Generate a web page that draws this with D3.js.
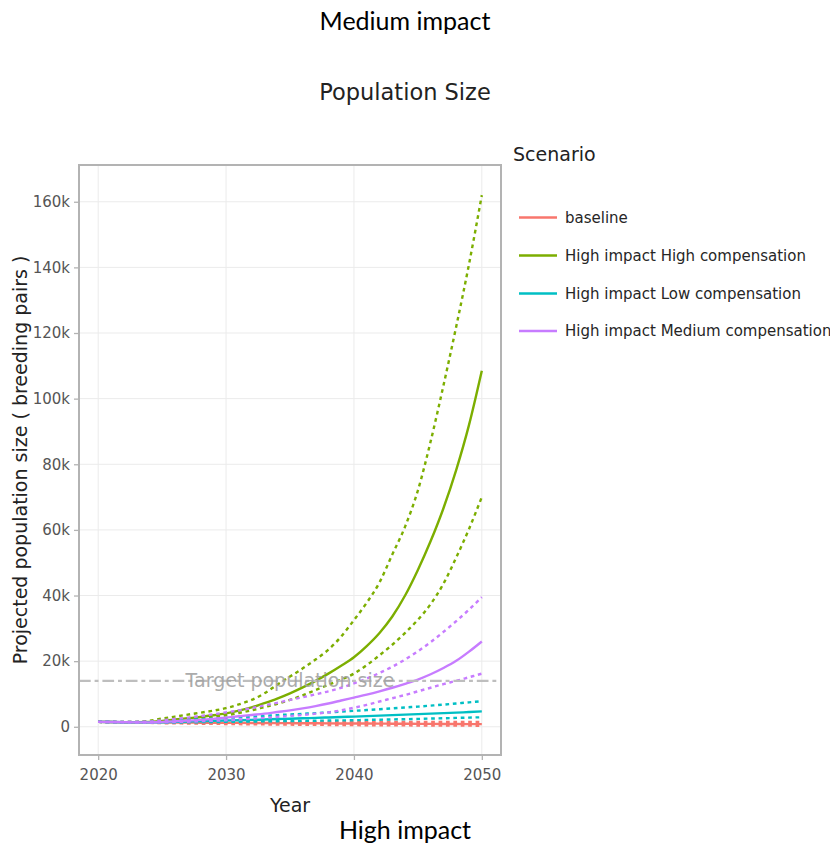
<!DOCTYPE html>
<html><head><meta charset="utf-8">
<script src="https://cdn.jsdelivr.net/npm/d3@7/dist/d3.min.js"></script>
<style>body{margin:0;background:#fff}svg{display:block}</style>
</head><body><svg id="c" width="830" height="847"></svg>
<script>
const years = [2020,2021,2022,2023,2024,2025,2026,2027,2028,2029,2030,2031,2032,2033,2034,2035,2036,2037,2038,2039,2040,2041,2042,2043,2044,2045,2046,2047,2048,2049,2050];
const scenarios = ["baseline","High impact High compensation","High impact Low compensation","High impact Medium compensation"];
const scenarioColors = ["#F8766D","#7CAE00","#00BFC4","#C77CFF"];

const baselineMean  = [1500,1450,1400,1380,1350,1330,1300,1280,1250,1230,1200,1180,1160,1140,1120,1100,1080,1060,1040,1020,1000,980,960,940,920,900,880,860,840,820,800];
const baselineUpper = [1500,1500,1500,1500,1500,1500,1500,1500,1500,1500,1500,1500,1500,1500,1500,1500,1500,1500,1500,1490,1490,1480,1480,1470,1470,1460,1460,1450,1450,1450,1450];
const baselineLower = [1500,1400,1300,1250,1200,1100,1050,1000,950,900,850,800,760,720,680,650,620,590,560,530,500,480,460,440,420,400,380,360,350,340,330];

const highHighMean  = [1500,1450,1400,1400,1450,1800,2200,2600,3000,3500,4100,4900,5900,7200,8600,10200,12000,14000,16200,18600,21200,24600,28600,33600,40000,47800,56600,66600,78300,92000,108500];
const highHighUpper = [1500,1450,1450,1500,1800,2500,3100,3700,4300,4900,5700,6800,8200,10200,12800,15300,17800,20500,23500,27500,32500,37800,44000,52500,61000,72000,87000,104000,122000,141000,162000];
const highHighLower = [1500,1450,1400,1350,1400,1600,1900,2200,2600,3000,3500,4200,5000,6000,7000,8200,9600,11200,12800,14400,16200,18800,21800,25000,28600,32600,37400,43600,51600,60300,70000];

const highLowMean   = [1500,1450,1400,1350,1350,1400,1500,1600,1700,1800,1900,2000,2100,2200,2350,2450,2600,2700,2850,3000,3100,3250,3400,3550,3700,3850,4000,4150,4300,4500,4700];
const highLowUpper  = [1500,1450,1450,1450,1500,1700,1900,2100,2300,2500,2700,2900,3100,3300,3550,3750,3950,4150,4400,4600,4850,5100,5350,5600,5900,6150,6450,6750,7100,7450,7800];
const highLowLower  = [1500,1450,1400,1300,1250,1250,1300,1350,1400,1450,1500,1550,1600,1650,1700,1750,1800,1850,1900,1950,2000,2100,2150,2250,2300,2400,2500,2600,2700,2800,2900];

const highMedMean   = [1500,1450,1400,1350,1350,1500,1700,1900,2100,2400,2800,3200,3600,4000,4500,5000,5600,6300,7100,8000,8900,9800,10800,11900,13100,14400,16000,17900,20100,22900,26000];
const highMedUpper  = [1500,1450,1450,1500,1600,2000,2400,2800,3300,3800,4400,5000,5700,6500,7300,8200,9000,9900,10800,11900,13200,14700,16400,18300,20500,23000,25800,28900,32200,35700,39500];
const highMedLower  = [1500,1450,1400,1300,1300,1350,1450,1550,1700,1850,2000,2200,2450,2700,3000,3300,3600,4000,4400,5000,5800,6700,7700,8700,9700,10800,11900,13000,14000,15100,16200];

const xTicks = [2020,2030,2040,2050];
const xTickLabels = ["2020","2030","2040","2050"];
const yTicks = [0,20000,40000,60000,80000,100000,120000,140000,160000];
const yTickLabels = ["0","20k","40k","60k","80k","100k","120k","140k","160k"];
const targetSize = 14000;
const targetLabel = "Target population size";
const targetLabelYear = 2035;

const seriesGroups = [
  [baselineMean, baselineUpper, baselineLower],
  [highHighMean, highHighUpper, highHighLower],
  [highLowMean, highLowUpper, highLowLower],
  [highMedMean, highMedUpper, highMedLower]
];

const svg = d3.select("#c");
const P = {l:79, r:501, t:165, b:755};
const x = d3.scaleLinear().domain([2018.5, 2051.5]).range([P.l, P.r]);
const y = d3.scaleLinear().domain([-8600, 171200]).range([P.b, P.t]);
const chartFont = "'DejaVu Sans', Verdana, sans-serif";

// titles
svg.append("text").attr("x",405).attr("y",30).attr("text-anchor","middle")
  .style("font-family","Lato, 'Open Sans', sans-serif").style("font-size","25px").attr("fill","#000").text("Medium impact");
svg.append("text").attr("x",405).attr("y",100).attr("text-anchor","middle")
  .style("font-family",chartFont).style("font-size","22.5px").attr("fill","#222").text("Population Size");
svg.append("text").attr("x",405).attr("y",839).attr("text-anchor","middle")
  .style("font-family","Lato, 'Open Sans', sans-serif").style("font-size","25px").attr("fill","#000").text("High impact");

// clip
svg.append("defs").append("clipPath").attr("id","clip").append("rect")
  .attr("x",P.l).attr("y",P.t).attr("width",P.r-P.l).attr("height",P.b-P.t);

// grid
const grid = svg.append("g");
grid.selectAll("line.v").data(xTicks).join("line")
  .attr("x1",d=>x(d)).attr("x2",d=>x(d)).attr("y1",P.t).attr("y2",P.b)
  .attr("stroke","#ebebeb").attr("stroke-width",1);
grid.selectAll("line.h").data(yTicks).join("line")
  .attr("y1",d=>y(d)).attr("y2",d=>y(d)).attr("x1",P.l).attr("x2",P.r)
  .attr("stroke","#ebebeb").attr("stroke-width",1);

// lines
const plot = svg.append("g").attr("clip-path","url(#clip)");
const line = d3.line().x((d,i)=>x(years[i])).y(d=>y(d)).curve(d3.curveMonotoneX);
seriesGroups.forEach((grp,gi)=>{
  grp.forEach((vals,k)=>{
    plot.append("path").datum(vals).attr("d",line)
      .attr("fill","none").attr("stroke",scenarioColors[gi]).attr("stroke-width",2.4)
      .attr("stroke-dasharray", k===0 ? null : "3.7,3.7");
  });
});

// target line and label
plot.append("line").attr("x1",P.l).attr("x2",P.r).attr("y1",y(targetSize)).attr("y2",y(targetSize))
  .attr("stroke","#bebebe").attr("stroke-width",2.2).attr("stroke-dasharray","11.7,3.9,3.9,3.9");
plot.append("text").attr("x",x(targetLabelYear)).attr("y",y(targetSize)).attr("dy","0.35em")
  .attr("text-anchor","middle").style("font-family",chartFont).style("font-size","19px")
  .attr("fill","#a3a3a3").attr("opacity",0.9).text(targetLabel);

// panel border
svg.append("rect").attr("x",P.l).attr("y",P.t).attr("width",P.r-P.l).attr("height",P.b-P.t)
  .attr("fill","none").attr("stroke","#b3b3b3").attr("stroke-width",2);

// axes
const yAxis = d3.axisLeft(y).tickValues(yTicks).tickFormat((d,i)=>yTickLabels[i]).tickSize(5).tickPadding(4);
const gy = svg.append("g").attr("transform",`translate(${P.l},0)`).call(yAxis);
const xAxis = d3.axisBottom(x).tickValues(xTicks).tickFormat((d,i)=>xTickLabels[i]).tickSize(5).tickPadding(9);
const gx = svg.append("g").attr("transform",`translate(0,${P.b})`).call(xAxis);
[gx,gy].forEach(g=>{
  g.select(".domain").remove();
  g.selectAll(".tick line").attr("stroke","#b3b3b3").attr("stroke-width",1.3);
  g.selectAll(".tick text").attr("fill","#555").style("font-family",chartFont).style("font-size","15px");
});

// axis titles
svg.append("text").attr("x",290).attr("y",812).attr("text-anchor","middle")
  .style("font-family",chartFont).style("font-size","19px").attr("fill","#222").text("Year");
svg.append("text").attr("transform",`translate(27,${(P.t+P.b)/2}) rotate(-90)`).attr("text-anchor","middle")
  .style("font-family",chartFont).style("font-size","19px").attr("fill","#222")
  .text("Projected population size ( breeding pairs )");

// legend
const lg = svg.append("g");
lg.append("text").attr("x",513).attr("y",161).style("font-family",chartFont).style("font-size","19px")
  .attr("fill","#222").text("Scenario");
const legendY = [217.5,255.5,293.5,331];
scenarios.forEach((s,i)=>{
  lg.append("line").attr("x1",519).attr("x2",557).attr("y1",legendY[i]).attr("y2",legendY[i])
    .attr("stroke",scenarioColors[i]).attr("stroke-width",2.4);
  lg.append("text").attr("x",565).attr("y",legendY[i]).attr("dy","0.35em")
    .style("font-family",chartFont).style("font-size","15px").attr("fill","#262626").text(s);
});
</script></body></html>
